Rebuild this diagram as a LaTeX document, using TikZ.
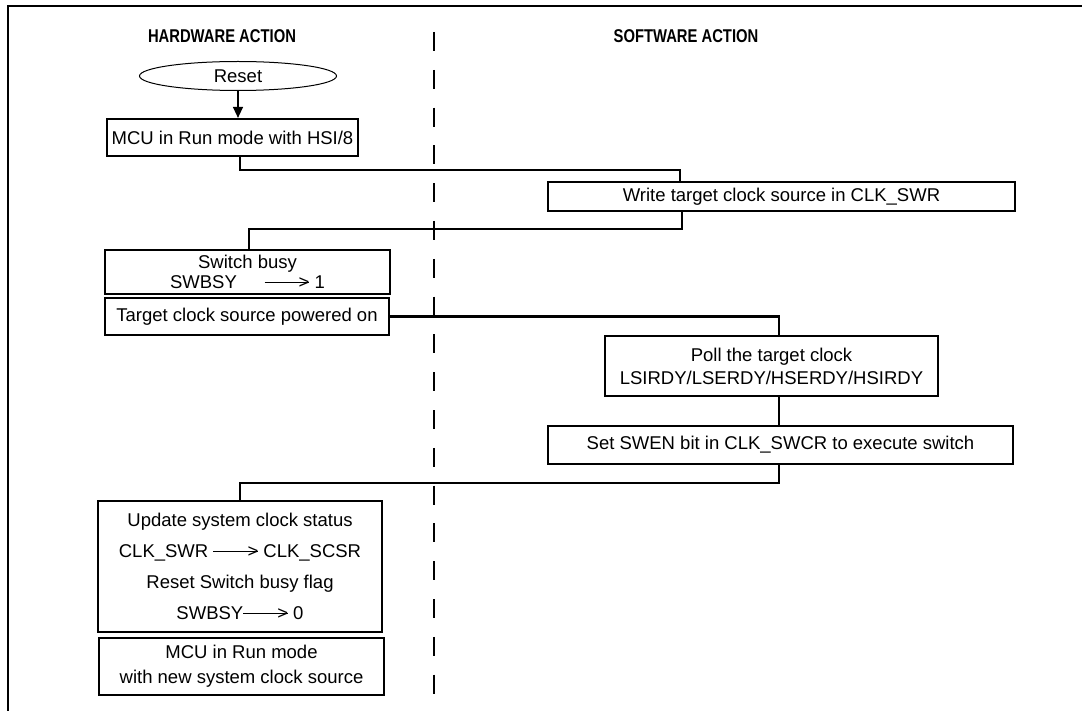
\documentclass[tikz,border=0pt]{standalone}
\usepackage{fontspec}
\setmainfont{Liberation Sans}
\newfontfamily\headfont{Liberation Sans}[FakeStretch=0.8]
\usetikzlibrary{shapes.geometric,arrows.meta}
\newcommand{\longarr}{\rule[0.31em]{2.4em}{0.07em}\kern-0.56em>}

\begin{document}
\begin{tikzpicture}[x=1pt,y=1pt,yscale=-1,xscale=1,
  box/.style={draw,line width=2.2pt,inner sep=0pt,align=center,font=\fontsize{18.5}{22}\selectfont},
  link/.style={line width=2.2pt},
  head/.style={font=\headfont\bfseries\fontsize{18.5}{20}\selectfont}]
\useasboundingbox (0,0) rectangle (1082,711);

%Shape: Frame
\draw [line width=2.2pt] (8,711) -- (8,6) -- (1082,6) ;
%Straight Lines: divider
\draw [line width=2pt, dash pattern=on 19pt off 18.8pt] (434,32) -- (434,694) ;

% Text Node
\node [head] (hwhead) at (222,36) {HARDWARE ACTION};
% Text Node
\node [head] (swhead) at (686,36) {SOFTWARE ACTION};

%Shape: Ellipse
\node [draw, ellipse, line width=1pt, inner sep=0pt, minimum width=197pt, minimum height=29pt, font=\fontsize{18.5}{22}\selectfont] (reset) at (238,76) {Reset};

%Shape: Rectangle
\node [box, minimum width=251pt, minimum height=37pt] (mcu) at (232.5,137.5) {MCU in Run mode with HSI/8};
\node [box, minimum width=467pt, minimum height=29pt] (write) at (781.5,196.5) {Write target clock source in CLK\_SWR};
\node [box, minimum width=285pt, minimum height=44pt, font=\fontsize{18.5}{20}\selectfont] (busy) at (247.5,272) {Switch busy\\SWBSY\hspace{1.5em}\longarr\ 1};
\node [box, minimum width=284pt, minimum height=37pt] (target) at (247,316.5) {Target clock source powered on};
\node [box, minimum width=333pt, minimum height=60pt, font=\fontsize{18.5}{23}\selectfont] (poll) at (771.5,366) {Poll the target clock\\LSIRDY/LSERDY/HSERDY/HSIRDY};
\node [box, minimum width=465pt, minimum height=38pt] (setb) at (780.5,445) {Set SWEN bit in CLK\_SWCR to execute switch};
\node [box, minimum width=284pt, minimum height=131pt, font=\fontsize{18.5}{31}\selectfont] (update) at (240,566.5) {Update system clock status\\CLK\_SWR \longarr\ CLK\_SCSR\\Reset Switch busy flag\\SWBSY\longarr\ 0};
\node [box, minimum width=285pt, minimum height=57pt, font=\fontsize{18.5}{25}\selectfont] (final) at (241.5,666.5) {MCU in Run mode\\with new system clock source};

%Straight Lines
\draw [line width=1.4pt, -{Triangle[length=11pt,width=10pt]}] (reset.south) -- (reset.south |- mcu.north) ;
\draw [link] ([xshift=7.5pt]mcu.south) -- ++(0,13) -| ([xshift=-101.5pt]write.north) ;
\draw [link] ([xshift=-99.5pt]write.south) -- ++(0,17) -| ([xshift=1.5pt]busy.north) ;
\draw [link] (target.east) -| ([xshift=7.5pt]poll.north) ;
\draw [link] ([xshift=7.5pt]poll.south) -- ([xshift=7.5pt]poll.south |- setb.north) ;
\draw [link] ([xshift=-1.5pt]setb.south) -- ++(0,18) -| (update.north) ;
\end{tikzpicture}
\end{document}
